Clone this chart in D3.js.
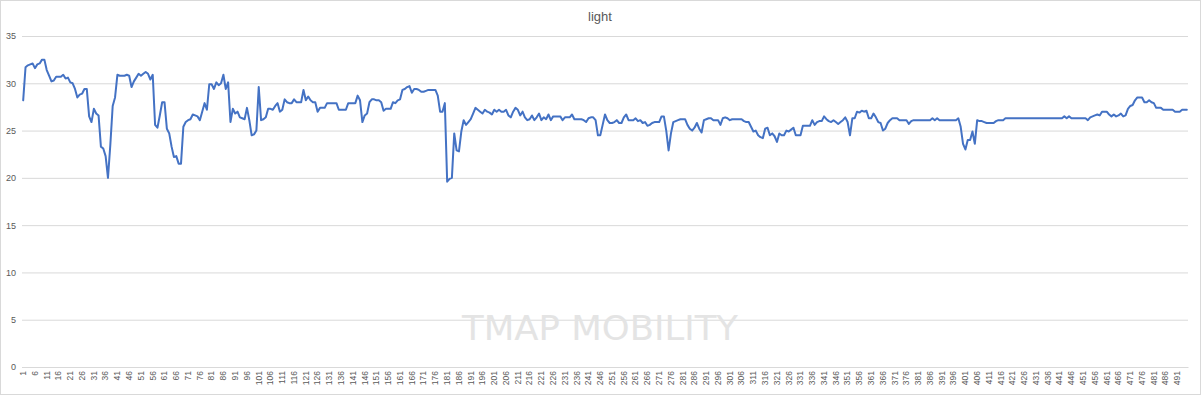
<!DOCTYPE html>
<html>
<head>
<meta charset="utf-8">
<script src="https://cdn.jsdelivr.net/npm/d3@7"></script>
<style>
  html, body { margin: 0; padding: 0; background: #fff; }
  svg { display: block; }
</style>
</head>
<body>
<svg id="chart" width="1201" height="395"></svg>
<script>
(function () {
const title = "light";
const light = [
  28.2,31.7,31.9,32.0,32.1,31.6,32.0,32.1,32.5,32.5,
  31.4,30.8,30.2,30.3,30.7,30.7,30.7,30.9,30.5,30.6,
  30.1,30.0,29.4,28.5,28.8,28.9,29.4,29.4,26.5,25.9,
  27.3,26.8,26.6,23.3,23.1,22.3,20.0,23.5,27.6,28.5,
  30.9,30.8,30.8,30.8,30.9,30.8,29.6,30.2,30.6,31.0,
  30.8,31.0,31.2,31.0,30.4,30.9,25.6,25.3,26.6,28.0,
  28.0,25.2,24.7,23.3,22.2,22.3,21.5,21.5,25.4,25.9,
  26.1,26.2,26.7,26.6,26.5,26.1,27.0,27.9,27.2,29.9,
  29.9,29.4,30.1,29.8,30.0,30.9,29.4,30.1,25.9,27.3,
  26.8,27.0,26.4,26.3,26.2,27.4,26.1,24.5,24.6,25.0,
  29.6,26.1,26.2,26.4,27.3,27.3,27.2,27.6,27.9,27.0,
  27.2,28.3,28.0,27.9,27.9,28.3,28.0,28.0,28.0,29.3,
  28.2,28.6,28.2,28.0,28.0,27.0,27.4,27.4,27.4,27.9,
  27.9,27.9,27.9,27.9,27.2,27.2,27.2,27.2,27.9,27.9,
  27.9,27.9,28.7,28.2,25.9,26.6,26.8,28.0,28.3,28.3,
  28.2,28.2,28.0,27.1,27.3,27.3,27.3,28.0,27.9,28.2,
  28.3,29.3,29.4,29.6,29.7,29.0,29.4,29.4,29.3,29.1,
  29.1,29.2,29.3,29.3,29.3,29.3,28.7,27.0,27.0,27.9,
  19.6,19.9,20.0,24.7,22.9,22.8,24.9,26.1,25.6,25.9,
  26.2,26.8,27.4,27.2,27.0,26.8,27.2,27.0,26.9,26.7,
  27.2,27.0,27.2,27.0,27.0,27.2,26.6,26.4,27.0,27.4,
  27.2,26.6,27.0,26.4,26.1,26.2,26.6,26.1,26.4,26.8,
  26.1,26.4,26.2,26.7,26.1,26.5,26.5,26.5,26.5,26.1,
  26.4,26.4,26.4,26.7,26.2,26.2,26.2,26.2,26.1,25.9,
  26.3,26.4,26.4,26.1,24.5,24.5,25.6,26.7,26.1,25.8,
  25.8,25.9,26.1,25.8,25.8,26.4,26.7,26.1,26.1,26.1,
  26.3,26.0,26.1,25.8,25.9,25.5,25.6,25.8,25.9,25.9,
  25.9,26.5,26.5,25.0,22.9,24.7,25.9,26.0,26.1,26.2,
  26.2,26.2,25.6,25.2,25.0,25.3,25.8,25.2,24.8,26.1,
  26.2,26.3,26.3,26.1,26.1,26.1,25.6,26.3,26.4,26.3,
  26.1,26.2,26.2,26.2,26.2,26.2,26.0,25.9,25.9,25.4,
  24.9,25.0,24.5,24.3,24.2,25.2,25.3,24.5,24.7,24.4,
  23.8,24.7,24.5,24.5,25.0,24.9,25.1,25.3,24.5,24.5,
  24.5,25.5,25.5,25.5,25.5,26.1,25.6,25.9,26.0,26.0,
  26.5,26.2,26.0,25.9,26.1,25.9,25.7,25.9,26.1,26.4,
  25.9,24.5,26.3,26.3,27.0,26.9,27.1,27.0,27.1,26.3,
  26.3,26.8,26.4,25.9,25.8,25.0,25.2,25.8,26.1,26.3,
  26.3,26.3,26.1,26.1,26.1,26.1,25.7,26.0,26.1,26.1,
  26.1,26.1,26.1,26.1,26.1,26.1,26.3,26.1,26.3,26.1,
  26.1,26.1,26.1,26.1,26.1,26.1,26.1,26.3,25.4,23.6,
  23.0,24.0,24.0,24.9,23.6,26.1,26.0,26.0,25.9,25.8,
  25.8,25.8,25.8,26.0,26.1,26.1,26.1,26.3,26.3,26.3,
  26.3,26.3,26.3,26.3,26.3,26.3,26.3,26.3,26.3,26.3,
  26.3,26.3,26.3,26.3,26.3,26.3,26.3,26.3,26.3,26.3,
  26.3,26.3,26.5,26.3,26.5,26.3,26.3,26.3,26.3,26.3,
  26.3,26.3,26.1,26.4,26.5,26.6,26.7,26.6,27.0,27.0,
  27.0,26.7,26.5,26.7,26.5,26.6,26.8,26.5,26.6,27.3,
  27.6,27.7,28.2,28.5,28.5,28.5,28.0,28.0,28.2,28.0,
  27.9,27.4,27.4,27.4,27.2,27.2,27.2,27.2,27.2,27.0,
  27.0,27.0,27.2,27.2,27.2
];
const categories = light.map((_, i) => String(i + 1));
const yTicks = [0, 5, 10, 15, 20, 25, 30, 35];
const xLabelStep = 5;
const watermark = "TMAP MOBILITY";

const svg = d3.select("#chart");
const W = 1201, H = 395;
const plotL = 22, plotR = 1188, plotT = 36, plotB = 367;

svg.append("rect").attr("x", 0.5).attr("y", 0.5).attr("width", W - 1).attr("height", H - 1)
  .attr("fill", "#fff").attr("stroke", "#d9d9d9");

const x = d3.scaleBand().domain(categories).range([plotL, plotR]).paddingInner(0).paddingOuter(0);
const y = d3.scaleLinear().domain([0, 35]).range([plotB, plotT]);
const cx = c => x(c) + x.bandwidth() / 2;

// gridlines + y labels
const yAxis = d3.axisLeft(y).tickValues(yTicks).tickSize(-(plotR - plotL)).tickPadding(6);
const gy = svg.append("g").attr("transform", `translate(${plotL},0)`).call(yAxis);
gy.select(".domain").remove();
gy.selectAll(".tick line").attr("stroke", "#d9d9d9").attr("stroke-width", 1);
gy.selectAll(".tick text").attr("fill", "#595959").attr("font-family", "Liberation Sans, Arial, sans-serif").attr("font-size", 9);

// watermark
svg.append("text").attr("x", 600).attr("y", 340).attr("text-anchor", "middle")
  .attr("font-family", "DejaVu Sans, sans-serif").attr("font-size", 33)
  .attr("textLength", 276).attr("lengthAdjust", "spacingAndGlyphs")
  .attr("fill", "#e4e4e4").text(watermark);

// x axis
const xAxis = d3.axisBottom(x).tickValues(categories.filter((_, i) => i % xLabelStep === 0)).tickSize(0).tickPadding(0);
const gx = svg.append("g").attr("transform", `translate(0,${plotB})`).call(xAxis);
gx.select(".domain").attr("stroke", "#d9d9d9");
gx.selectAll(".tick text")
  .attr("fill", "#595959").attr("font-family", "Liberation Sans, Arial, sans-serif").attr("font-size", 8.5)
  .attr("text-anchor", "end").attr("transform", "translate(0,4) rotate(-90)")
  .attr("x", 0).attr("y", 0).attr("dy", "0.33em");

// title
svg.append("text").attr("x", 600).attr("y", 21).attr("text-anchor", "middle")
  .attr("fill", "#595959").attr("font-family", "Liberation Sans, Arial, sans-serif").attr("font-size", 13)
  .text(title);

// line
const line = d3.line().x((d, i) => cx(categories[i])).y(d => y(d)).curve(d3.curveLinear);
svg.append("path").datum(light).attr("d", line).attr("fill", "none")
  .attr("stroke", "#4472C4").attr("stroke-width", 2).attr("stroke-linejoin", "round").attr("stroke-linecap", "round");
})();
</script>
</body>
</html>
